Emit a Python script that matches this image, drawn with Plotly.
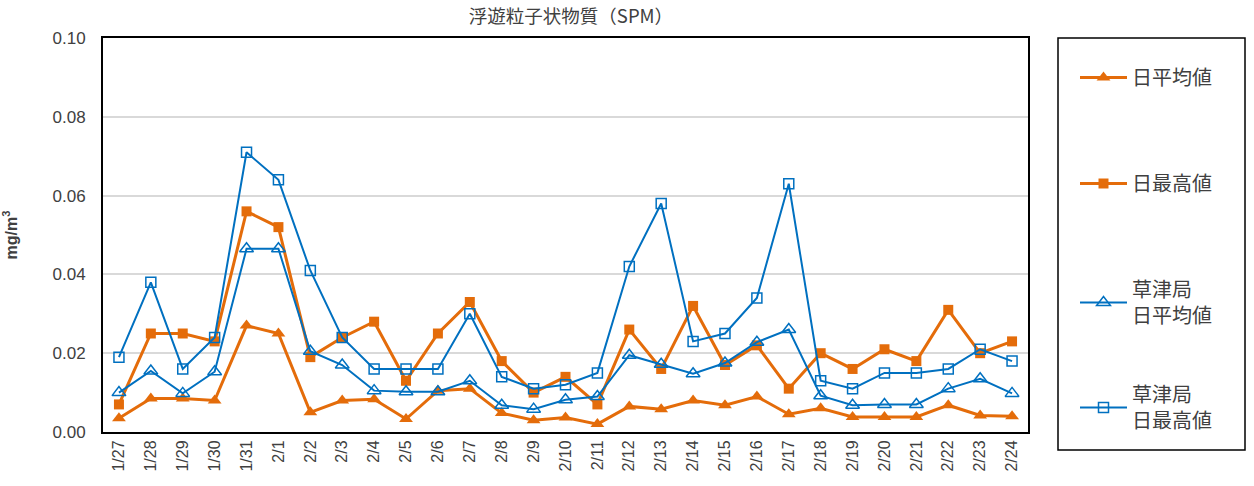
import plotly.graph_objects as go

dates = ["1/27","1/28","1/29","1/30","1/31","2/1","2/2","2/3","2/4","2/5","2/6","2/7","2/8","2/9",
         "2/10","2/11","2/12","2/13","2/14","2/15","2/16","2/17","2/18","2/19","2/20","2/21","2/22","2/23","2/24"]

avg_vals = [0.0035,0.0085,0.0085,0.008,0.027,0.025,0.005,0.008,0.0083,0.0033,0.0105,0.011,0.0048,0.003,
            0.0037,0.002,0.0065,0.0058,0.008,0.0068,0.009,0.0045,0.006,0.0038,0.0038,0.0038,0.0068,0.0042,0.004]
max_vals = [0.007,0.025,0.025,0.023,0.056,0.052,0.019,0.024,0.028,0.013,0.025,0.033,0.018,0.010,
            0.014,0.007,0.026,0.016,0.032,0.017,0.022,0.011,0.020,0.016,0.021,0.018,0.031,0.020,0.023]
kusatsu_avg = [0.010,0.0155,0.0098,0.0153,0.0465,0.0465,0.0205,0.017,0.0105,0.0102,0.0102,0.013,0.0068,0.0058,
               0.0082,0.009,0.0195,0.0172,0.0148,0.0175,0.0228,0.026,0.0092,0.0068,0.007,0.007,0.011,0.0135,0.0098]
kusatsu_max = [0.019,0.038,0.016,0.024,0.071,0.064,0.041,0.024,0.016,0.016,0.016,0.030,0.014,0.011,
               0.012,0.015,0.042,0.058,0.023,0.025,0.034,0.063,0.013,0.011,0.015,0.015,0.016,0.021,0.018]

names = ["日平均値", "日最高値", "草津局<br>日平均値", "草津局<br>日最高値"]

ORANGE = "#E46C0A"
BLUE = "#0070C0"
JP = "Noto Sans CJK JP"
NUM = "Liberation Sans"

L, R, T, B = 103, 1028, 38, 432
W, H = 1254, 486
PW, PH = R - L, B - T

fig = go.Figure()
fig.add_trace(go.Scatter(x=dates, y=avg_vals, name=names[0], legend="legend", mode="lines+markers",
                         line=dict(color=ORANGE, width=3),
                         marker=dict(symbol="triangle-up", size=12, color=ORANGE)))
fig.add_trace(go.Scatter(x=dates, y=max_vals, name=names[1], legend="legend2", mode="lines+markers",
                         line=dict(color=ORANGE, width=3),
                         marker=dict(symbol="square", size=10, color=ORANGE)))
fig.add_trace(go.Scatter(x=dates, y=kusatsu_avg, name=names[2], legend="legend3", mode="lines+markers",
                         line=dict(color=BLUE, width=2),
                         marker=dict(symbol="triangle-up-open", size=12, color=BLUE, line=dict(width=1.5, color=BLUE))))
fig.add_trace(go.Scatter(x=dates, y=kusatsu_max, name=names[3], legend="legend4", mode="lines+markers",
                         line=dict(color=BLUE, width=2),
                         marker=dict(symbol="square-open", size=10, color=BLUE, line=dict(width=1.5, color=BLUE))))


def leg(top_px):
    return dict(x=(1075 - L) / PW, xanchor="left", y=1 - (top_px - T) / PH, yanchor="top",
                font=dict(family=JP, size=20, color="#404040"),
                bgcolor="rgba(0,0,0,0)", borderwidth=0, itemwidth=47, maxheight=400)


fig.update_layout(
    width=W, height=H,
    margin=dict(l=L, r=W - R, t=T, b=H - B, autoexpand=False),
    paper_bgcolor="white", plot_bgcolor="white",
    title=dict(text="浮遊粒子状物質（SPM）", x=571 / W, xanchor="center",
               y=1 - 17 / H, yanchor="middle",
               font=dict(family=JP, size=18.5, color="#404040")),
    showlegend=True,
    legend=leg(58), legend2=leg(164), legend3=leg(270), legend4=leg(375),
    xaxis=dict(type="category", range=[-0.5, len(dates) - 0.5], tickangle=-90,
               tickfont=dict(family=NUM, size=16, color="#404040"),
               showline=True, mirror=True, linecolor="black", linewidth=2, showgrid=False,
               ticks="", automargin=False),
    yaxis=dict(range=[0, 0.1], dtick=0.02, tickformat=".2f",
               tickfont=dict(family=NUM, size=17, color="#404040"), ticklabelstandoff=12,
               showline=True, mirror=True, linecolor="black", linewidth=2,
               showgrid=True, gridcolor="#D9D9D9", gridwidth=1.5, ticks="", zeroline=False,
               automargin=False,
               title=dict(text="<b>mg/m<sup>3</sup></b>", font=dict(family=NUM, size=16, color="#404040"),
                          standoff=40)),
    shapes=[dict(type="rect", xref="paper", yref="paper",
                 x0=(1058 - L) / PW, x1=(1245 - L) / PW,
                 y0=(B - 450) / PH, y1=1.0,
                 line=dict(color="black", width=1.5), fillcolor="rgba(0,0,0,0)")],
)

fig.write_html("out.html", config={"displayModeBar": False},
               post_script="document.body.style.margin='0';")
